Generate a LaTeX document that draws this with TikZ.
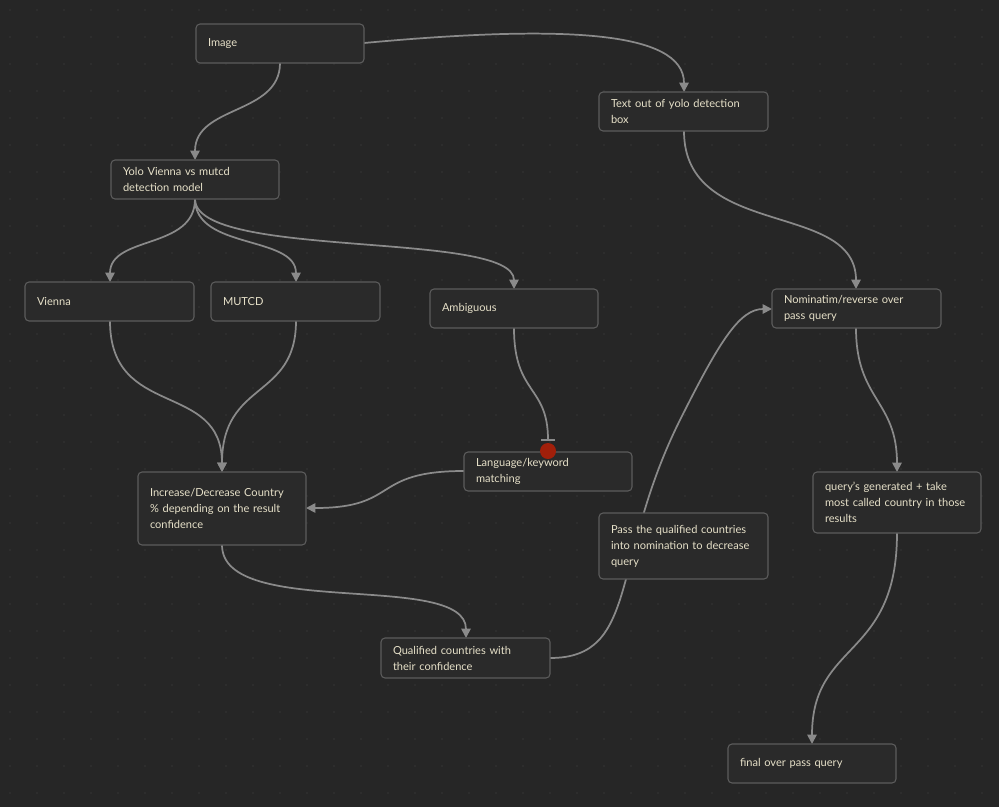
\documentclass[tikz,border=0pt]{standalone}
\usepackage{fontspec}
\setmainfont{Lato}
\usetikzlibrary{arrows.meta}
\definecolor{bg}{HTML}{262626}
\definecolor{boxfill}{HTML}{2A2A2A}
\definecolor{boxline}{HTML}{5C5C5C}
\definecolor{txt}{HTML}{E6E0C8}
\definecolor{edge}{HTML}{8A8A8A}
\definecolor{dotc}{HTML}{363636}
\definecolor{reddot}{HTML}{A11F0A}
\begin{document}
\begin{tikzpicture}[x=0.75pt,y=-0.75pt,
  box/.style={draw=boxline,fill=boxfill,rounded corners=3pt,line width=0.8pt,text=txt,font=\fontsize{8.3}{12}\selectfont,align=left,inner sep=0pt},
  con/.style={draw=edge,line width=1.3pt,-{Triangle[length=7pt,width=7pt]}}]
\fill[bg] (0,0) rectangle (999,807);
\useasboundingbox (0,0) rectangle (999,807);
\foreach \i in {0,...,37}{\foreach \j in {0,...,30}{\fill[dotc] (\i*27+10,\j*27+10) circle (0.8);}}
% edges
\draw[con] (280,63) .. controls (280,115) and (195,105) .. (195,160);
\draw[con] (364,43) .. controls (560,25) and (684,30) .. (684,92);
\draw[con] (195,199) .. controls (195,250) and (110,235) .. (110,282);
\draw[con] (195,199) .. controls (195,250) and (296,235) .. (296,282);
\draw[con] (195,199) .. controls (195,260) and (514,230) .. (514,289);
\draw[con] (110,321) .. controls (110,420) and (222,380) .. (222,472);
\draw[con] (296,321) .. controls (296,400) and (222,380) .. (222,472);
\draw[draw=edge,line width=1.3pt,-{Bar[width=10pt,line width=1.3pt]}] (514,328) .. controls (514,395) and (548,385) .. (548,441);
\draw[con] (464,471) .. controls (370,471) and (400,508) .. (306,508);
\draw[con] (222,545) .. controls (222,620) and (466,570) .. (466,638);
\draw[con] (550,658) .. controls (640,658) and (610,560) .. (680,420) .. controls (720,340) and (740,309) .. (772,309);
\draw[con] (684,131) .. controls (684,240) and (856,200) .. (856,289);
\draw[con] (856,328) .. controls (856,400) and (897,400) .. (897,472);
\draw[con] (897,533) .. controls (897,660) and (812,640) .. (812,744);
% nodes
\newcommand\bx[6]{\node[box,minimum width={(#4-#2)*0.75pt},minimum height={(#5-#3)*0.75pt},text width={(#4-#2-24)*0.75pt}] (#1) at ({(#2+#4)/2},{(#3+#5)/2}) {#6};}
\bx{img}{196}{24}{364}{63}{Image}
\bx{txtout}{599}{92}{768}{131}{Text out of yolo detection\\box}
\bx{yolo}{111}{160}{279}{199}{Yolo Vienna vs mutcd\\detection model}
\bx{vienna}{25}{282}{194}{321}{Vienna}
\bx{mutcd}{211}{282}{380}{321}{MUTCD}
\bx{amb}{430}{289}{598}{328}{Ambiguous}
\bx{nom}{772}{289}{941}{328}{Nominatim/reverse over\\pass query}
\bx{lang}{464}{452}{632}{491}{Language/keyword\\matching}
\bx{inc}{138}{472}{306}{545}{Increase/Decrease Country\\\% depending on the result\\confidence}
\bx{query}{813}{472}{981}{533}{query's generated + take\\most called country in those\\results}
\bx{pass}{599}{513}{768}{579}{Pass the qualified countries\\into nomination to decrease\\query}
\bx{qual}{381}{638}{550}{678}{Qualified countries with\\their confidence}
\bx{final}{728}{744}{896}{783}{final over pass query}
\fill[reddot] (548,451) circle (8);
\end{tikzpicture}
\end{document}
